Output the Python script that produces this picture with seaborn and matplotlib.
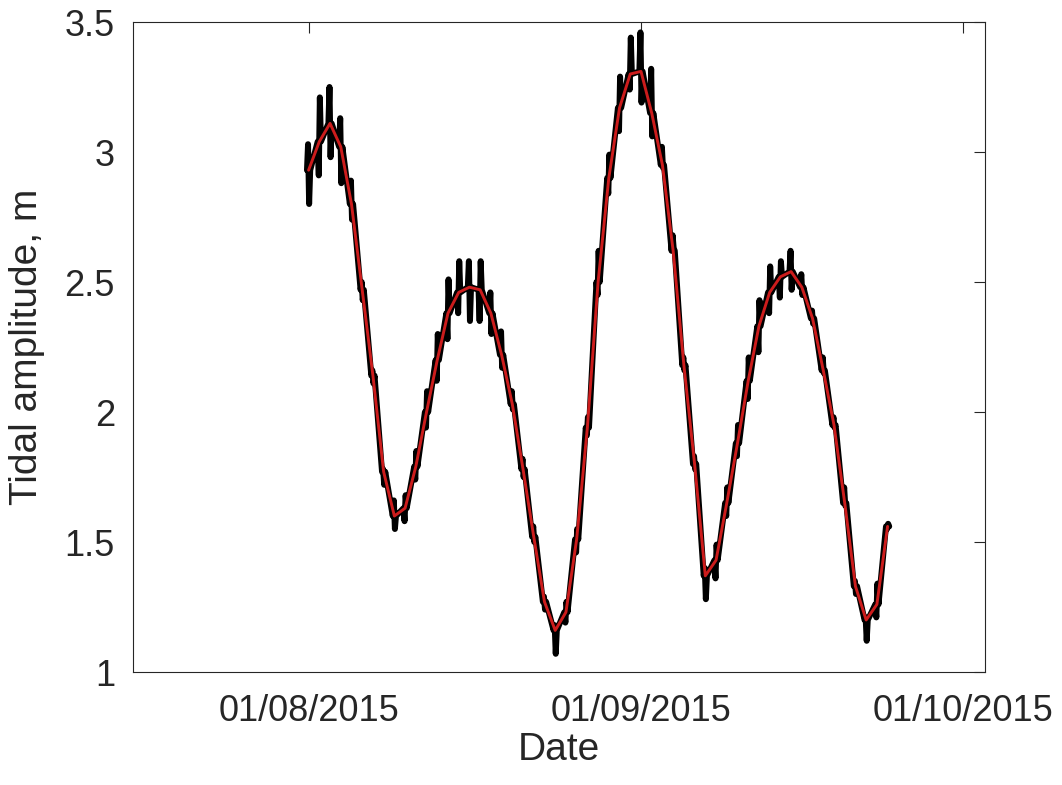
import numpy as np
import pandas as pd
import matplotlib
matplotlib.use('Agg')
import matplotlib.pyplot as plt
import matplotlib.dates as mdates
from matplotlib.ticker import FuncFormatter
import seaborn as sns

# daily values, 01/08/2015 .. 24/09/2015
days = pd.date_range('2015-08-01', periods=55, freq='D')

# smoothed tidal amplitude (red)
trend = [2.93, 3.04, 3.11, 3.02, 2.80, 2.47, 2.14, 1.77, 1.60, 1.63,
         1.79, 2.00, 2.20, 2.38, 2.46, 2.48, 2.47, 2.38, 2.22, 2.03,
         1.78, 1.52, 1.27, 1.16, 1.23, 1.51, 1.94, 2.50, 2.90, 3.17,
         3.30, 3.31, 3.15, 2.95, 2.62, 2.18, 1.80, 1.37, 1.43, 1.65,
         1.88, 2.12, 2.33, 2.46, 2.52, 2.54, 2.48, 2.36, 2.16, 1.95,
         1.65, 1.33, 1.20, 1.26, 1.56]

# raw amplitude: the two extremes of each day's jump (black)
first = [3.03, 2.91, 3.25, 3.13, 2.89, 2.50, 2.16, 1.78, 1.66, 1.58,
         1.74, 1.94, 2.12, 2.28, 2.38, 2.58, 2.35, 2.46, 2.31, 2.08,
         1.82, 1.56, 1.29, 1.18, 1.19, 1.46, 1.91, 2.45, 2.84, 3.08,
         3.24, 3.46, 3.32, 3.02, 2.68, 2.21, 1.83, 1.40, 1.36, 1.60,
         1.83, 2.05, 2.23, 2.38, 2.44, 2.62, 2.53, 2.39, 2.21, 1.98,
         1.71, 1.35, 1.21, 1.21, 1.55]
second = [2.80, 3.21, 2.98, 2.88, 2.74, 2.43, 2.11, 1.72, 1.55, 1.68,
          1.85, 2.08, 2.30, 2.51, 2.58, 2.35, 2.58, 2.30, 2.17, 2.01,
          1.75, 1.50, 1.24, 1.07, 1.27, 1.55, 1.98, 2.62, 2.99, 3.29,
          3.44, 3.19, 3.06, 2.94, 2.63, 2.16, 1.78, 1.28, 1.49, 1.71,
          1.95, 2.21, 2.43, 2.56, 2.58, 2.47, 2.45, 2.34, 2.15, 1.94,
          1.64, 1.30, 1.12, 1.34, 1.57]

xticks = pd.to_datetime(['2015-08-01', '2015-09-01', '2015-10-01'])
yticks = [1, 1.5, 2, 2.5, 3, 3.5]

# black path: follows the trend, with a short jump around each day
h = pd.Timedelta(hours=1)
rows = []
for d, m, a, b in zip(days, trend, first, second):
    rows += [(d - 3.6 * h, m), (d - 1.2 * h, a), (d + 1.2 * h, b), (d + 3.6 * h, m)]
raw = pd.DataFrame(rows, columns=['time', 'amp'])
smooth = pd.DataFrame({'time': days, 'amp': trend})

sns.set_style('white')
plt.rcParams['font.family'] = ['Liberation Sans', 'DejaVu Sans']
ink = '#262626'

fig = plt.figure(figsize=(10.62, 7.85), dpi=100)
ax = fig.add_axes([133 / 1062, 1 - 672 / 785, 852 / 1062, 650 / 785])

sns.lineplot(data=raw, x='time', y='amp', color='black', lw=4.3,
             estimator=None, sort=False, ax=ax)
sns.lineplot(data=smooth, x='time', y='amp', color='#cc1c1c', lw=2.1,
             estimator=None, sort=False, ax=ax)

ax.set_xlim(pd.Timestamp('2015-07-15 15:00'), pd.Timestamp('2015-10-03 02:00'))
ax.set_ylim(1, 3.5)
ax.set_xticks(xticks)
ax.xaxis.set_major_formatter(mdates.DateFormatter('%d/%m/%Y'))
ax.set_yticks(yticks)
ax.yaxis.set_major_formatter(FuncFormatter(lambda v, p: '%g' % v))

ax.tick_params(direction='in', length=8, width=0.8, top=True, right=True,
               labelsize=26, colors=ink)
ax.tick_params(axis='y', pad=13)
ax.tick_params(axis='x', pad=16)
for s in ax.spines.values():
    s.set_visible(True)
    s.set_color(ink)
    s.set_linewidth(0.8)

ax.set_xlabel('Date', fontsize=28, color=ink, labelpad=2)
ax.set_ylabel('Tidal amplitude, m', fontsize=28, color=ink, labelpad=14)

fig.savefig('out.png', dpi=100)
